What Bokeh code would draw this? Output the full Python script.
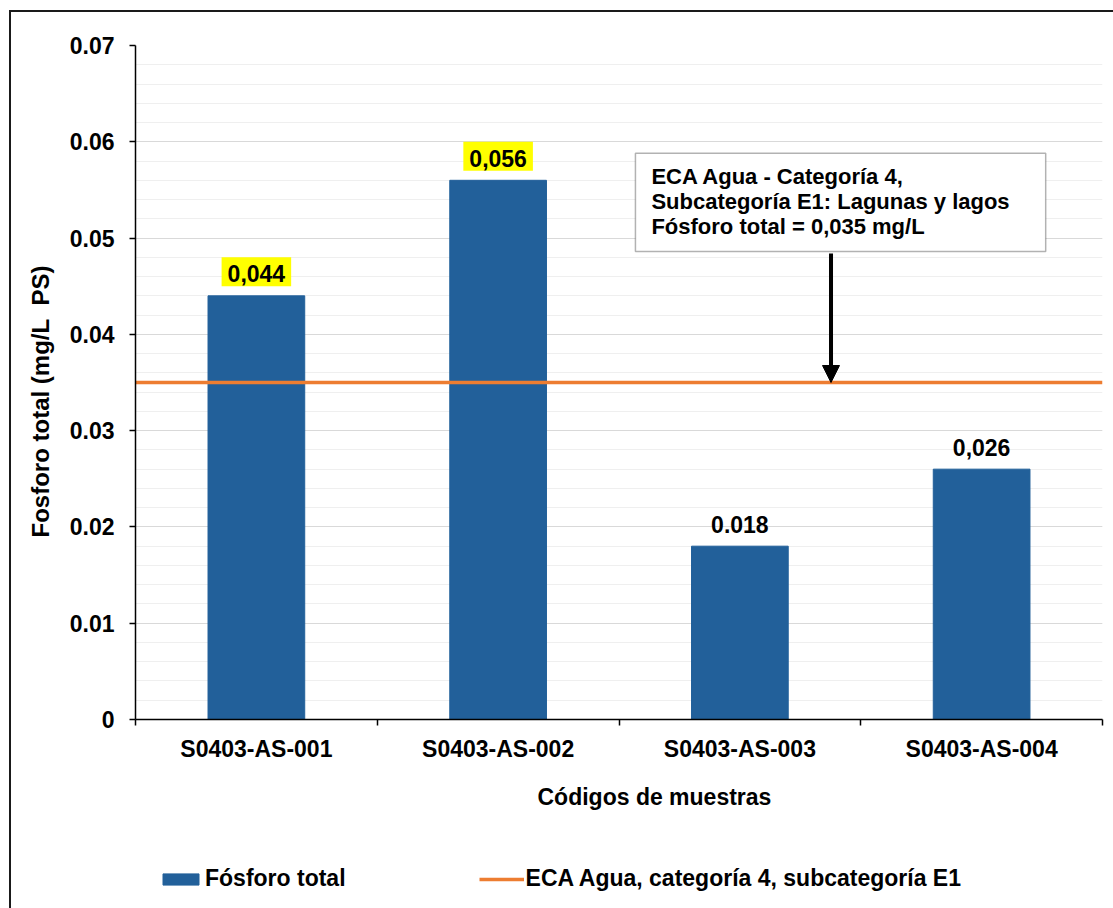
from bokeh.plotting import figure
from bokeh.layouts import column
from bokeh.models import (ColumnDataSource, Range1d, LinearAxis, FixedTicker,
                          CustomJSTickFormatter, Legend, LegendItem, Label, Title,
                          Arrow, NormalHead, BoxAnnotation)
from bokeh.core.properties import value, field
from bokeh.embed import file_html
from bokeh.resources import INLINE

# ---- data -------------------------------------------------------------
samples = ["S0403-AS-001", "S0403-AS-002", "S0403-AS-003", "S0403-AS-004"]
fosforo_total = [0.044, 0.056, 0.018, 0.026]          # mg/L
value_labels = ["0,044", "0,056", "0.018", "0,026"]
eca_limit = 0.035                                      # ECA Agua, cat. 4, E1

y_tick_values = [0.0, 0.01, 0.02, 0.03, 0.04, 0.05, 0.06, 0.07]
y_tick_labels = ["0", "0.01", "0.02", "0.03", "0.04", "0.05", "0.06", "0.07"]

eca_note = ["ECA Agua - Categoría 4,",
            "Subcategoría E1: Lagunas y lagos",
            "Fósforo total = 0,035 mg/L"]

series_names = ["Fósforo total", "ECA Agua, categoría 4, subcategoría E1"]

# ---- styling ----------------------------------------------------------
FONT_NAME = "Liberation Sans"
BAR_COLOR = "#22609A"
ECA_COLOR = "#ED7D31"
HIGHLIGHT = "#FFFF00"
BAR_WIDTH = 0.4
ECA_WIDTH = 3.5

n = len(samples)
centers = [i + 0.5 for i in range(n)]          # one unit slot per sample

# values above the limit get a highlighted label
label_bg = [HIGHLIGHT if v > eca_limit else "rgba(0,0,0,0)" for v in fosforo_total]

source = ColumnDataSource(dict(x=centers, y=fosforo_total, label=value_labels, bg=label_bg))
limit_source = ColumnDataSource(dict(x=[0, n], y=[eca_limit, eca_limit]))

p = figure(width=1102, height=826,
           x_range=Range1d(0, n), y_range=Range1d(0, 0.07),
           x_axis_location=None, y_axis_location=None,
           output_backend="svg", toolbar_location=None,
           min_border_left=122, min_border_right=11,
           min_border_top=33, min_border_bottom=119)
p.outline_line_color = None
p.background_fill_color = "white"
p.border_fill_color = "white"

# y axis
minor_positions = [round(0.002 * k, 3) for k in range(36)]
yaxis = LinearAxis(ticker=FixedTicker(ticks=y_tick_values, minor_ticks=minor_positions))
yaxis.major_label_overrides = dict(zip(y_tick_values, y_tick_labels))
yaxis.axis_line_color = "black"
yaxis.axis_line_width = 1.5
yaxis.major_tick_out = 6
yaxis.major_tick_in = 0
yaxis.major_tick_line_color = "black"
yaxis.major_tick_line_width = 1.5
yaxis.minor_tick_out = 0
yaxis.minor_tick_in = 0
yaxis.major_label_standoff = 15
yaxis.major_label_text_font = FONT_NAME
yaxis.major_label_text_font_style = "bold"
yaxis.major_label_text_font_size = "23px"
yaxis.major_label_text_color = "black"
p.add_layout(yaxis, "left")

p.ygrid.ticker = yaxis.ticker
p.ygrid.grid_line_color = "#d9d9d9"
p.ygrid.grid_line_width = 1
p.ygrid.minor_grid_line_color = "#efefef"
p.ygrid.minor_grid_line_width = 1
p.xgrid.visible = False

# y title (non-breaking space keeps the double gap)
p.add_layout(Title(text="Fosforo total (mg/L\u00a0 PS)", align="left", offset=182,
                   standoff=26, text_font=FONT_NAME, text_font_style="bold",
                   text_font_size="24px", text_color="black"), "left")

# x axis: boundary ticks between the sample slots ...
tick_axis = LinearAxis(ticker=FixedTicker(ticks=list(range(n + 1)), minor_ticks=[]),
                       formatter=CustomJSTickFormatter(code="return ''"))
tick_axis.axis_line_color = "black"
tick_axis.axis_line_width = 1.5
tick_axis.major_tick_out = 6
tick_axis.major_tick_in = 0
tick_axis.major_tick_line_color = "black"
tick_axis.major_tick_line_width = 1.5
tick_axis.minor_tick_out = 0
tick_axis.major_label_standoff = 0
p.add_layout(tick_axis, "below")

# ... and the sample codes centred in each slot
name_axis = LinearAxis(ticker=FixedTicker(ticks=centers, minor_ticks=[]))
name_axis.major_label_overrides = dict(zip(centers, samples))
name_axis.axis_line_color = None
name_axis.major_tick_out = 0
name_axis.major_tick_in = 0
name_axis.minor_tick_out = 0
name_axis.major_label_standoff = 10
name_axis.major_label_text_font = FONT_NAME
name_axis.major_label_text_font_style = "bold"
name_axis.major_label_text_font_size = "23px"
name_axis.major_label_text_color = "black"
p.add_layout(name_axis, "below")

# x title
p.add_layout(Title(text="Códigos de muestras", align="left", offset=402,
                   standoff=34, text_font=FONT_NAME, text_font_style="bold",
                   text_font_size="23px", text_color="black"), "below")

# bars, limit line and value labels
bar_style = dict(width=BAR_WIDTH, fill_color=BAR_COLOR, line_color=BAR_COLOR)
line_style = dict(line_color=ECA_COLOR, line_width=ECA_WIDTH)
p.vbar(x="x", top="y", source=source, **bar_style)
p.line(x="x", y="y", source=limit_source, **line_style)
p.text(x="x", y="y", text="label", source=source,
       text_align="center", text_baseline="alphabetic", y_offset=-24,
       text_font=value(FONT_NAME), text_font_style="bold", text_font_size="23px",
       text_color="black", background_fill_color=field("bg"),
       padding=dict(left=6, right=6, top=8, bottom=4))

# note box with arrow pointing to the limit line
p.add_layout(BoxAnnotation(left=2.068, right=3.765, top=0.0588, bottom=0.0486,
                           fill_color="white", fill_alpha=1.0,
                           line_color="black", line_width=1.5))
for i, line in enumerate(eca_note):
    p.add_layout(Label(x=2.134, y=0.0564 - i * 0.0026, text=line,
                       text_align="left", text_baseline="alphabetic",
                       text_font=FONT_NAME, text_font_style="bold",
                       text_font_size="22px", text_color="black"))
p.add_layout(Arrow(x_start=2.877, y_start=0.0484, x_end=2.877, y_end=eca_limit,
                   line_color="black", line_width=4,
                   end=NormalHead(size=17, fill_color="black", line_color="black")))

# ---- legend strip under the chart ----------------------------------------
# same series drawn into a strip whose view lies above the data, so only the
# legend keys show
lf = figure(width=1102, height=70, x_range=Range1d(0, n), y_range=Range1d(1, 2),
            x_axis_location=None, y_axis_location=None,
            output_backend="svg", toolbar_location=None, min_border=0)
lf.outline_line_color = None
lf.grid.visible = False
bar_key = lf.vbar(x="x", top="y", source=source, **bar_style)
eca_key = lf.line(x="x", y="y", source=limit_source, **line_style)
legend = Legend(items=[LegendItem(label=series_names[0], renderers=[bar_key]),
                       LegendItem(label=series_names[1], renderers=[eca_key])],
                orientation="horizontal", location=(23, 16),
                glyph_width=45, glyph_height=14, label_standoff=2, spacing=133,
                padding=0, margin=0, border_line_color=None,
                background_fill_alpha=0,
                label_text_font=FONT_NAME, label_text_font_style="bold",
                label_text_font_size="23px", label_text_color="black")
lf.add_layout(legend, "center")

# chart-area frame (left and top edges fall inside the window)
layout = column(p, lf, spacing=0,
                styles={"margin-left": "9px", "margin-top": "10px",
                        "border-left": "2px solid #1a1a1a",
                        "border-top": "2px solid #1a1a1a"})

open("out.html", "w").write(file_html(layout, INLINE))
